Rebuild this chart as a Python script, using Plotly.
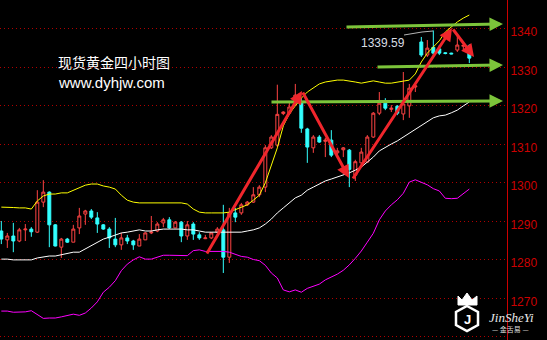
import plotly.graph_objects as go

# ---------------- data (4-hour spot gold) ----------------
opens = [1287.5,1285.2,1286.2,1284.9,1287.8,1288.0,1287.2,1295.0,1297.6,1289.1,
         1283.3,1285.4,1284.6,1288.3,1291.9,1292.7,1290.9,1289.1,1288.0,1285.4,
         1283.9,1285.7,1284.9,1283.6,1285.2,1287.0,1287.5,1289.6,1290.4,1288.3,
         1289.8,1286.2,1289.3,1286.5,1285.5,1285.7,1287.2,1287.8,1280.7,1292.2,
         1292.2,1294.3,1295.0,1296.9,1298.9,1309.1,1309.8,1318.0,1318.1,1320.7,
         1321.0,1314.0,1309.1,1311.9,1310.8,1311.1,1307.8,1308.6,1308.5,1302.0,
         1305.2,1305.4,1311.9,1318.1,1320.7,1319.1,1319.9,1317.9,1320.0,1324.9,
         1336.6,1333.2,1335.2,1334.8,1333.8,1333.7,1334.5,1335.5,1335.6]
highs = [1290.1,1287.0,1289.6,1288.3,1289.3,1288.5,1298.1,1300.7,1297.8,1289.3,
         1285.7,1285.7,1289.1,1293.5,1293.0,1293.2,1292.4,1289.3,1288.5,1290.9,
         1287.0,1286.5,1285.2,1286.7,1287.2,1291.4,1289.8,1290.9,1291.1,1290.1,
         1290.1,1290.1,1289.8,1287.2,1286.5,1287.2,1288.5,1294.3,1293.5,1293.5,
         1294.8,1295.3,1298.9,1299.4,1309.8,1312.4,1325.5,1318.6,1321.0,1325.7,
         1322.0,1314.3,1312.4,1312.4,1311.7,1313.7,1309.1,1309.3,1308.8,1306.0,
         1309.1,1312.4,1318.4,1323.6,1322.0,1320.2,1320.2,1328.8,1325.7,1326.0,
         1337.9,1337.1,1339.59,1335.8,1333.9,1333.8,1338.4,1336.3,1336.0]
lows = [1284.1,1283.1,1282.0,1284.6,1284.9,1286.0,1287.0,1293.7,1283.3,1283.5,
        1280.5,1284.4,1284.6,1286.7,1289.1,1290.6,1287.0,1287.8,1283.1,1283.3,
        1282.6,1284.1,1282.6,1283.6,1285.2,1286.7,1287.2,1288.5,1288.0,1288.3,
        1284.6,1285.2,1285.2,1285.2,1285.4,1285.4,1287.0,1276.6,1279.2,1289.8,
        1291.7,1294.0,1294.8,1296.3,1297.6,1308.8,1309.3,1317.6,1317.6,1320.2,
        1313.0,1305.2,1307.8,1310.4,1306.7,1306.7,1307.2,1306.7,1298.9,1300.5,
        1304.1,1305.2,1311.7,1317.6,1318.9,1318.4,1317.6,1316.3,1316.9,1323.6,
        1332.7,1332.7,1333.2,1333.2,1333.4,1333.4,1334.0,1334.5,1331.1]
closes = [1285.4,1286.2,1284.9,1287.8,1288.0,1287.3,1295.0,1297.6,1289.1,1283.6,
          1285.4,1284.6,1288.0,1291.4,1292.7,1291.1,1289.3,1288.0,1285.7,1283.9,
          1285.7,1284.9,1283.9,1285.4,1287.0,1287.2,1289.3,1290.4,1288.3,1289.8,
          1286.2,1289.1,1286.7,1285.7,1285.7,1287.0,1288.0,1280.7,1292.2,1291.1,
          1294.3,1295.0,1296.9,1298.9,1309.1,1311.9,1317.8,1318.4,1319.7,1322.8,
          1314.2,1309.3,1311.9,1310.6,1311.1,1307.2,1308.3,1309.1,1303.5,1305.5,
          1308.0,1311.9,1318.1,1320.7,1319.4,1319.4,1318.1,1320.5,1324.6,1325.2,
          1333.2,1335.0,1333.7,1333.7,1333.6,1333.5,1335.8,1335.7,1332.4]

boll_upper = [1293.7,1293.7,1293.6,1293.5,1293.5,1293.2,1295.3,1296.6,1297.1,1297.1,
              1297.4,1297.4,1298.1,1298.7,1299.4,1299.7,1299.7,1299.2,1298.9,1298.4,
              1296.8,1295.5,1295.0,1294.8,1294.8,1294.8,1294.8,1294.8,1294.8,1294.8,
              1294.8,1294.5,1293.2,1292.4,1292.2,1292.2,1292.2,1292.2,1292.4,1293.0,
              1293.5,1294.3,1295.5,1296.8,1300.0,1304.6,1309.1,1314.8,1317.9,1320.0,
              1322.0,1323.6,1324.6,1325.7,1326.2,1326.5,1326.7,1326.7,1326.5,1326.2,
              1325.9,1326.2,1326.5,1326.2,1325.9,1325.9,1326.2,1326.5,1326.7,1328.3,
              1331.4,1333.7,1335.3,1336.9,1339.2,1340.5,1341.8,1342.8,1343.6]
boll_mid = [1280.2,1280.2,1280.0,1280.0,1280.0,1280.0,1280.5,1280.7,1281.0,1281.0,
            1281.3,1281.5,1282.0,1282.0,1282.8,1283.6,1284.4,1285.4,1285.9,1286.5,
            1287.0,1287.2,1287.5,1287.8,1287.5,1287.5,1287.8,1288.0,1288.0,1288.0,
            1288.0,1287.8,1287.8,1287.5,1287.2,1287.2,1287.2,1287.2,1287.2,1287.2,
            1287.2,1287.5,1287.8,1288.3,1289.3,1290.6,1292.2,1293.5,1294.8,1296.1,
            1296.8,1298.1,1298.9,1299.7,1300.5,1301.0,1301.5,1302.0,1302.6,1303.3,
            1304.1,1305.4,1306.7,1308.3,1309.3,1310.1,1310.9,1311.9,1313.0,1314.0,
            1315.0,1316.1,1316.9,1317.4,1317.6,1318.2,1318.9,1320.0,1321.0]
boll_lower = [1266.7,1266.7,1266.4,1266.5,1266.5,1266.8,1265.7,1264.8,1264.9,1264.9,
              1265.2,1265.6,1265.9,1265.6,1266.2,1267.5,1269.1,1271.6,1272.9,1274.6,
              1277.2,1278.9,1280.0,1280.8,1280.2,1280.2,1280.8,1281.2,1281.2,1281.2,
              1281.2,1281.1,1282.4,1282.6,1282.2,1282.2,1282.2,1282.2,1282.0,1281.4,
              1280.9,1280.7,1280.1,1279.8,1278.6,1276.6,1275.3,1272.2,1271.7,1272.2,
              1271.6,1272.6,1273.2,1273.7,1274.8,1275.5,1276.3,1277.3,1278.7,1280.4,
              1282.3,1284.6,1286.9,1290.4,1292.7,1294.3,1295.6,1297.3,1300.2,1300.8,
              1300.2,1299.5,1298.5,1297.9,1296.0,1295.9,1296.0,1297.2,1298.4]

price_ticks = [1260, 1270, 1280, 1290, 1300, 1310, 1320, 1330, 1340]
title_text = "现货黄金四小时图"
site_text = "www.dyhjw.com"
max_label = "1339.59"

bars = list(range(len(opens)))

# ---------------- geometry helpers for decorations ----------------
W, H, PLOT_W = 547, 340, 507
X0, X1 = -0.22, 84.28
Y0, Y1 = 1259.19, 1347.5


def dx(px):
    return X0 + px / PLOT_W * (X1 - X0)


def dy(py):
    return Y1 - py / H * (Y1 - Y0)


def pp(px, py):
    return px / PLOT_W, 1 - py / H


RED = "#ff4444"
CYAN = "#33ffff"

fig = go.Figure()
fig.add_trace(go.Candlestick(
    x=bars, open=opens, high=highs, low=lows, close=closes,
    increasing=dict(line=dict(color=RED, width=1), fillcolor="#000000"),
    decreasing=dict(line=dict(color=CYAN, width=1), fillcolor=CYAN),
    whiskerwidth=0, hoverinfo="skip"))
for series, col in [(boll_upper, "#ffff00"), (boll_mid, "#ffffff"), (boll_lower, "#ff00ff")]:
    fig.add_trace(go.Scatter(x=bars, y=series, mode="lines",
                             line=dict(color=col, width=1), hoverinfo="skip"))

annotations = []
# green horizontal arrows
for (tx, ty, hx, hy) in [(345, 27, 503, 24), (376, 67, 503, 65), (270, 102, 503, 101)]:
    annotations.append(dict(x=dx(hx), y=dy(hy), ax=dx(tx), ay=dy(ty), xref="x", yref="y",
                            axref="x", ayref="y", text="", showarrow=True, arrowhead=2,
                            arrowsize=0.9, arrowwidth=3, arrowcolor="#7cc43a"))
# red zigzag arrows
for (tx, ty, hx, hy) in [(206, 255, 302, 91), (302, 91, 349, 178),
                         (352, 180, 452, 28), (452, 28, 474, 57)]:
    annotations.append(dict(x=dx(hx), y=dy(hy), ax=dx(tx), ay=dy(ty), xref="x", yref="y",
                            axref="x", ayref="y", text="", showarrow=True, arrowhead=2,
                            arrowsize=0.85, arrowwidth=3, arrowcolor="#f0262c"))

annotations.append(dict(x=dx(359), y=dy(43), xref="x", yref="y", text=max_label,
                        showarrow=False, xanchor="left", yanchor="middle",
                        font=dict(size=12, color="#d8dde4", family="Liberation Sans, Arial")))
annotations.append(dict(x=pp(56, 62)[0], y=pp(56, 62)[1], xref="paper", yref="paper",
                        text=title_text, showarrow=False, xanchor="left", yanchor="middle",
                        font=dict(size=14, color="#ffffff", family="Noto Sans CJK SC")))
annotations.append(dict(x=pp(56, 82)[0], y=pp(56, 82)[1], xref="paper", yref="paper",
                        text=site_text, showarrow=False, xanchor="left", yanchor="middle",
                        font=dict(size=15, color="#ffffff", family="Liberation Sans, Arial")))
# logo texts
annotations.append(dict(x=pp(511, 317)[0], y=pp(511, 317)[1], xref="paper", yref="paper",
                        text="<i>JinSheYi</i>", showarrow=False, xanchor="center", yanchor="middle",
                        font=dict(size=13, color="#e8e8e8", family="Liberation Serif")))
annotations.append(dict(x=pp(510, 329)[0], y=pp(510, 329)[1], xref="paper", yref="paper",
                        text="— 金舌易 —", showarrow=False, xanchor="center", yanchor="middle",
                        font=dict(size=7, color="#dddddd", family="Noto Sans CJK SC")))
annotations.append(dict(x=pp(467, 319)[0], y=pp(467, 319)[1], xref="paper", yref="paper",
                        text="<b>J</b>", showarrow=False, xanchor="center", yanchor="middle",
                        font=dict(size=13, color="#ffffff", family="Liberation Sans")))

shapes = []
# leader line for the max label
shapes.append(dict(type="path", xref="x", yref="y",
                   path=f"M{dx(404)},{dy(35)} L{dx(422)},{dy(32)} L{dx(433)},{dy(31)}",
                   line=dict(color="#b4b4b4", width=1)))
# logo hexagon and crown
hexpts = [(467, 306), (478, 312), (478, 325), (467, 331), (456, 325), (456, 312)]
hp = " L".join(f"{pp(a, b)[0]},{pp(a, b)[1]}" for a, b in hexpts)
shapes.append(dict(type="path", xref="paper", yref="paper", path=f"M{hp} Z",
                   line=dict(color="#ffffff", width=2.5), fillcolor="rgba(0,0,0,0)"))
crown = [(458, 305), (458, 296), (462, 300), (467, 293), (472, 300), (477, 296), (477, 305)]
cp = " L".join(f"{pp(a, b)[0]},{pp(a, b)[1]}" for a, b in crown)
shapes.append(dict(type="path", xref="paper", yref="paper", path=f"M{cp} Z",
                   line=dict(color="#ffffff", width=1), fillcolor="#ffffff"))

fig.update_layout(
    width=W, height=H, margin=dict(l=0, r=W - PLOT_W, t=0, b=0),
    paper_bgcolor="#000000", plot_bgcolor="#000000", showlegend=False,
    annotations=annotations, shapes=shapes,
    xaxis=dict(range=[X0, X1], showgrid=False, zeroline=False, showticklabels=False,
               showline=False, rangeslider=dict(visible=False), fixedrange=True),
    yaxis=dict(range=[Y0, Y1], side="right", tickvals=price_ticks,
               ticktext=[str(v) for v in price_ticks], showgrid=True,
               gridcolor="#b00000", griddash="1px,3px", gridwidth=1, zeroline=False,
               showline=True, linecolor="#cc0000", linewidth=1, ticks="",
               ticklabelshift=3,
               tickfont=dict(size=12, color="#cc0000", family="Liberation Sans, Arial"),
               fixedrange=True),
)

fig.write_html("out.html", config={"displayModeBar": False})
